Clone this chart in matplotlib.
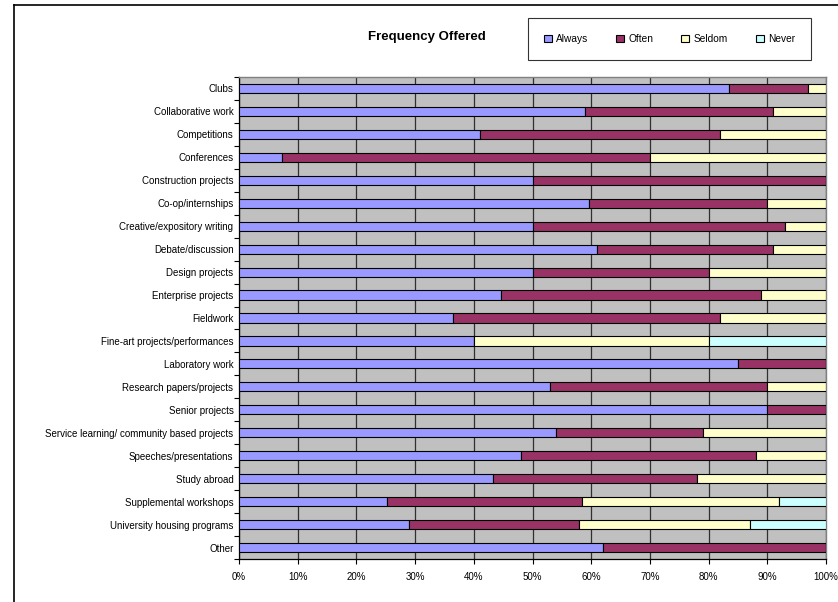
import matplotlib
matplotlib.use("Agg")
import matplotlib.pyplot as plt
from matplotlib.lines import Line2D
from matplotlib.patches import Patch
import numpy as np

plt.rcParams['font.family'] = ['Liberation Sans', 'DejaVu Sans']

categories = [
    "Clubs", "Collaborative work", "Competitions", "Conferences",
    "Construction projects", "Co-op/internships", "Creative/expository writing",
    "Debate/discussion", "Design projects", "Enterprise projects", "Fieldwork",
    "Fine-art projects/performances", "Laboratory work", "Research papers/projects",
    "Senior projects", "Service learning/ community based projects",
    "Speeches/presentations", "Study abroad", "Supplemental workshops",
    "University housing programs", "Other",
]
always = [83.5, 59, 41, 7.3, 50, 59.7, 50, 61, 50, 44.6, 36.5, 40, 85, 53, 90, 54, 48, 43.3, 25.2, 29, 62]
often  = [13.5, 32, 41, 62.7, 50, 30.2, 43, 30, 30, 44.3, 45.5, 0, 15, 37, 10, 25, 40, 34.8, 33.3, 29, 38]
seldom = [3, 9, 18, 30, 0, 10.1, 7, 9, 20, 11.1, 18, 40, 0, 10, 0, 21, 12, 21.9, 33.5, 29, 0]
never  = [0, 0, 0, 0, 0, 0, 0, 0, 0, 0, 0, 20, 0, 0, 0, 0, 0, 0, 8, 13, 0]

series = [("Always", always, "#9999FF"), ("Often", often, "#993366"),
          ("Seldom", seldom, "#FFFFCC"), ("Never", never, "#CCFFFF")]
xticks = [0, 10, 20, 30, 40, 50, 60, 70, 80, 90, 100]

W, H = 838, 602
fig = plt.figure(figsize=(W / 100, H / 100), dpi=100)
ax = fig.add_axes([239 / W, 1 - 559 / H, (826 - 239) / W, (559 - 77) / H])
ax.set_facecolor("#C0C0C0")

y = np.arange(len(categories))
left = np.zeros(len(categories))
for name, vals, col in series:
    v = np.array(vals, dtype=float)
    ax.barh(y, v, left=left, height=0.4, color=col, edgecolor="black",
            linewidth=0.8, label=name, zorder=3)
    left += v

ax.set_xlim(0, 100)
ax.set_ylim(len(categories) - 0.5, -0.5)
ax.set_xticks(xticks)
ax.set_xticklabels([f"{t}%" for t in xticks], fontsize=7)
ax.set_yticks(y)
ax.set_yticklabels(categories, fontsize=7)
ax.tick_params(axis="y", length=0, pad=4)
ax.set_yticks(np.arange(-0.5, len(categories) + 0.5, 1), minor=True)
ax.tick_params(axis="y", which="minor", length=3.5, width=0.8, color="black")
ax.tick_params(axis="x", length=3.5, width=0.8, pad=6)
ax.xaxis.grid(True, color="#303030", linewidth=0.9, zorder=1)
ax.set_axisbelow(True)
for s in ["top", "right"]:
    ax.spines[s].set_color("#808080")
    ax.spines[s].set_linewidth(1)
ax.spines["left"].set_color("black")
ax.spines["bottom"].set_color("black")
ax.spines["left"].set_linewidth(0.9)
ax.spines["bottom"].set_linewidth(0.9)

fig.text(427 / W, 1 - 37 / H, "Frequency Offered", fontsize=9.5, fontweight="bold",
         ha="center", va="center")

handles = [Patch(facecolor=c, edgecolor="black", linewidth=0.8) for _, _, c in series]
leg = fig.legend(handles, [n for n, _, _ in series], loc="center",
                 bbox_to_anchor=(669.5 / W, 1 - 39 / H), ncol=4, fontsize=7.3,
                 frameon=True, fancybox=False, edgecolor="black",
                 handlelength=0.8, handleheight=0.8, handletextpad=0.4,
                 columnspacing=2.75, borderpad=1.6, borderaxespad=0)
leg.get_frame().set_linewidth(0.8)

# outer chart border (cropped)
fig.add_artist(Line2D([14 / W, 1], [1 - 5 / H, 1 - 5 / H], color="black", linewidth=1.2,
                      transform=fig.transFigure))
fig.add_artist(Line2D([14 / W, 14 / W], [0, 1 - 5 / H], color="black", linewidth=1.2,
                      transform=fig.transFigure))

fig.savefig("out.png", dpi=100)
